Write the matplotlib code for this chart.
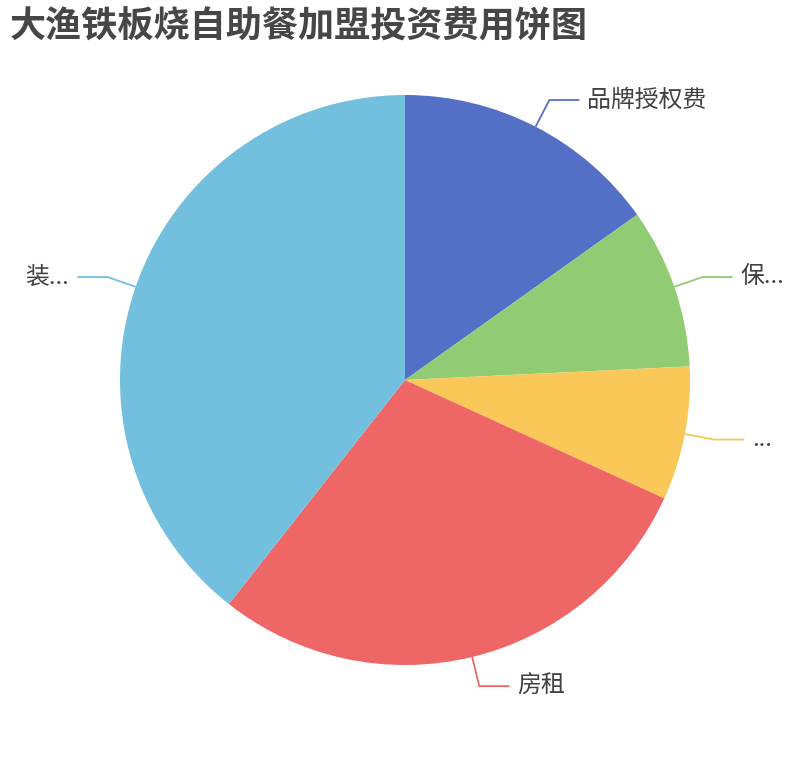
import numpy as np
import matplotlib.pyplot as plt

plt.rcParams['font.family'] = ['Noto Sans CJK SC', 'DejaVu Sans']

# 加盟投资费用 (estimated shares)
labels = ['品牌授权费', '保...', '...', '房租', '装...']
values = [5.0, 3.0, 2.5, 9.5, 13.0]
colors = ['#5470c6', '#91cc75', '#fac858', '#ee6666', '#73c0de']

W, H = 810, 760
fig = plt.figure(figsize=(W / 100, H / 100), dpi=100)
ax = fig.add_axes([0, 0, 1, 1])

cx, cy, r = 405, H - 380, 285
wedges, _ = ax.pie(values, colors=colors, startangle=90, counterclock=False,
                   center=(cx, cy), radius=r, frame=True,
                   wedgeprops=dict(linewidth=0))
ax.set_xlim(0, W)
ax.set_ylim(0, H)
ax.set_aspect('equal')
ax.axis('off')

# label lines like echarts: radial segment then horizontal segment
for w, lab, col in zip(wedges, labels, colors):
    mid = np.deg2rad((w.theta1 + w.theta2) / 2)
    dx, dy = np.cos(mid), np.sin(mid)
    x0, y0 = cx + r * dx, cy + r * dy
    x1, y1 = cx + (r + 30) * dx, cy + (r + 30) * dy
    side = 1 if dx >= 0 else -1
    x2 = x1 + side * 30
    ax.plot([x0, x1, x2], [y0, y1, y1], color=col, lw=1.3, solid_capstyle='butt')
    ax.text(x2 + side * 8, y1, lab, ha='left' if side > 0 else 'right',
            va='center', fontsize=17.2, color='#404040')

fig.text(10 / W, 1 - 27 / H, '大渔铁板烧自助餐加盟投资费用饼图', fontsize=26,
         fontweight='bold', color='#464646', ha='left', va='center')

fig.savefig('out.png', dpi=100, facecolor='white')
